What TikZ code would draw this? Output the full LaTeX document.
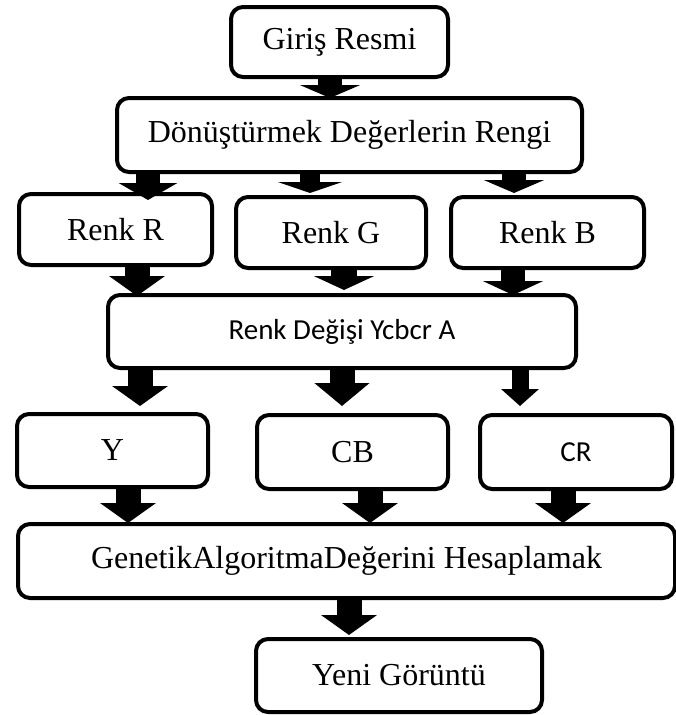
\documentclass[tikz,border=0pt]{standalone}
\usepackage{fontspec}
\setmainfont{Liberation Serif}
\newfontfamily\calfont{Carlito}
\usetikzlibrary{arrows.meta}
\tikzset{
  box/.style={draw=black, line width=4pt, rounded corners=12pt, fill=white,
    inner sep=0pt, align=center, font=\fontsize{32}{36}\selectfont},
  sansbox/.style={box, font=\calfont\fontsize{29}{33}\selectfont},
  bigarrow/.style={line width=25pt, -{Triangle[width=55pt,length=20pt]}},
  flatarrow/.style={line width=24pt, -{Triangle[width=60pt,length=13pt]}},
  smallarrow/.style={line width=17pt, -{Triangle[width=37pt,length=17pt]}}
}
\begin{document}
\begin{tikzpicture}[x=1pt,y=-1pt]
\useasboundingbox (0,0) rectangle (676,715);
\fill[white] (0,0) rectangle (676,715);

\node[box, minimum width=217pt, minimum height=70pt] (gr) at (339.5,42) {Giriş Resmi};
\node[box, minimum width=465pt, minimum height=74pt] (dn) at (349.5,135) {Dönüştürmek Değerlerin Rengi};
\node[box, minimum width=193pt, minimum height=71pt] (rr) at (115.5,229.5) {Renk R};
\node[box, minimum width=190pt, minimum height=71pt] (rg) at (331,232.5) {Renk G};
\node[box, minimum width=193pt, minimum height=71pt] (rb) at (547.5,232.5) {Renk B};
\node[sansbox, minimum width=468pt, minimum height=73pt] (yc) at (342,331.5) {Renk Değişi Ycbcr A};
\node[box, minimum width=191pt, minimum height=73pt] (yy) at (112.5,450.5) {Y};
\node[box, minimum width=191pt, minimum height=74pt] (cb) at (352.5,452) {CB};
\node[box, font=\calfont\fontsize{29}{33}\selectfont, minimum width=192pt, minimum height=74pt] (cr) at (576,452) {CR};
\node[box, minimum width=657pt, minimum height=74pt] (ga) at (346.5,561) {GenetikAlgoritmaDeğerini Hesaplamak};
\node[box, minimum width=286pt, minimum height=73pt] (yn) at (399,675.5) {Yeni Görüntü};

\coordinate (x1) at (330,0);
\coordinate (x2r) at (148,0);
\coordinate (x2g) at (310,0);
\coordinate (x2b) at (514,0);
\coordinate (x3r) at (137,0);
\coordinate (x3g) at (344,0);
\coordinate (x3b) at (513,0);
\coordinate (x4y) at (140,0);
\coordinate (x4cb) at (342,0);
\coordinate (x4cr) at (520,0);
\coordinate (x5y) at (128,0);
\coordinate (x5cb) at (370,0);
\coordinate (x5cr) at (563,0);
\coordinate (x6) at (349,0);

\draw[flatarrow, shorten >=-2pt] (gr.south -| x1) -- (dn.north -| x1);
\draw[flatarrow, -{Triangle[width=58pt,length=17pt]}, shorten >=-8pt] (dn.south -| x2r) -- (rr.north -| x2r);
\draw[flatarrow, -{Triangle[width=64pt,length=11pt]}, line width=20pt, shorten >=2pt] (dn.south -| x2g) -- (rg.north -| x2g);
\draw[flatarrow, shorten >=2pt] (dn.south -| x2b) -- (rb.north -| x2b);
\draw[bigarrow, shorten >=-3pt] (rr.south -| x3r) -- (yc.north -| x3r);
\draw[flatarrow, -{Triangle[width=60pt,length=14pt]}, line width=26pt, shorten >=3pt] (rg.south -| x3g) -- (yc.north -| x3g);
\draw[flatarrow, -{Triangle[width=60pt,length=14pt]}, shorten >=-2pt] (rb.south -| x3b) -- (yc.north -| x3b);
\draw[bigarrow, shorten >=6pt] (yc.south -| x4y) -- (yy.north -| x4y);
\draw[bigarrow, -{Triangle[width=54pt,length=23pt]}, shorten >=7pt] (yc.south -| x4cb) -- (cb.north -| x4cb);
\draw[smallarrow, shorten >=7pt] (yc.south -| x4cr) -- (cr.north -| x4cr);
\draw[bigarrow, shorten >=-1pt] (yy.south -| x5y) -- (ga.north -| x5y);
\draw[bigarrow, shorten >=-1pt] (cb.south -| x5cb) -- (ga.north -| x5cb);
\draw[bigarrow, shorten >=-1pt] (cr.south -| x5cr) -- (ga.north -| x5cr);
\draw[bigarrow, shorten >=2pt] (ga.south -| x6) -- (yn.north -| x6);
\end{tikzpicture}
\end{document}
